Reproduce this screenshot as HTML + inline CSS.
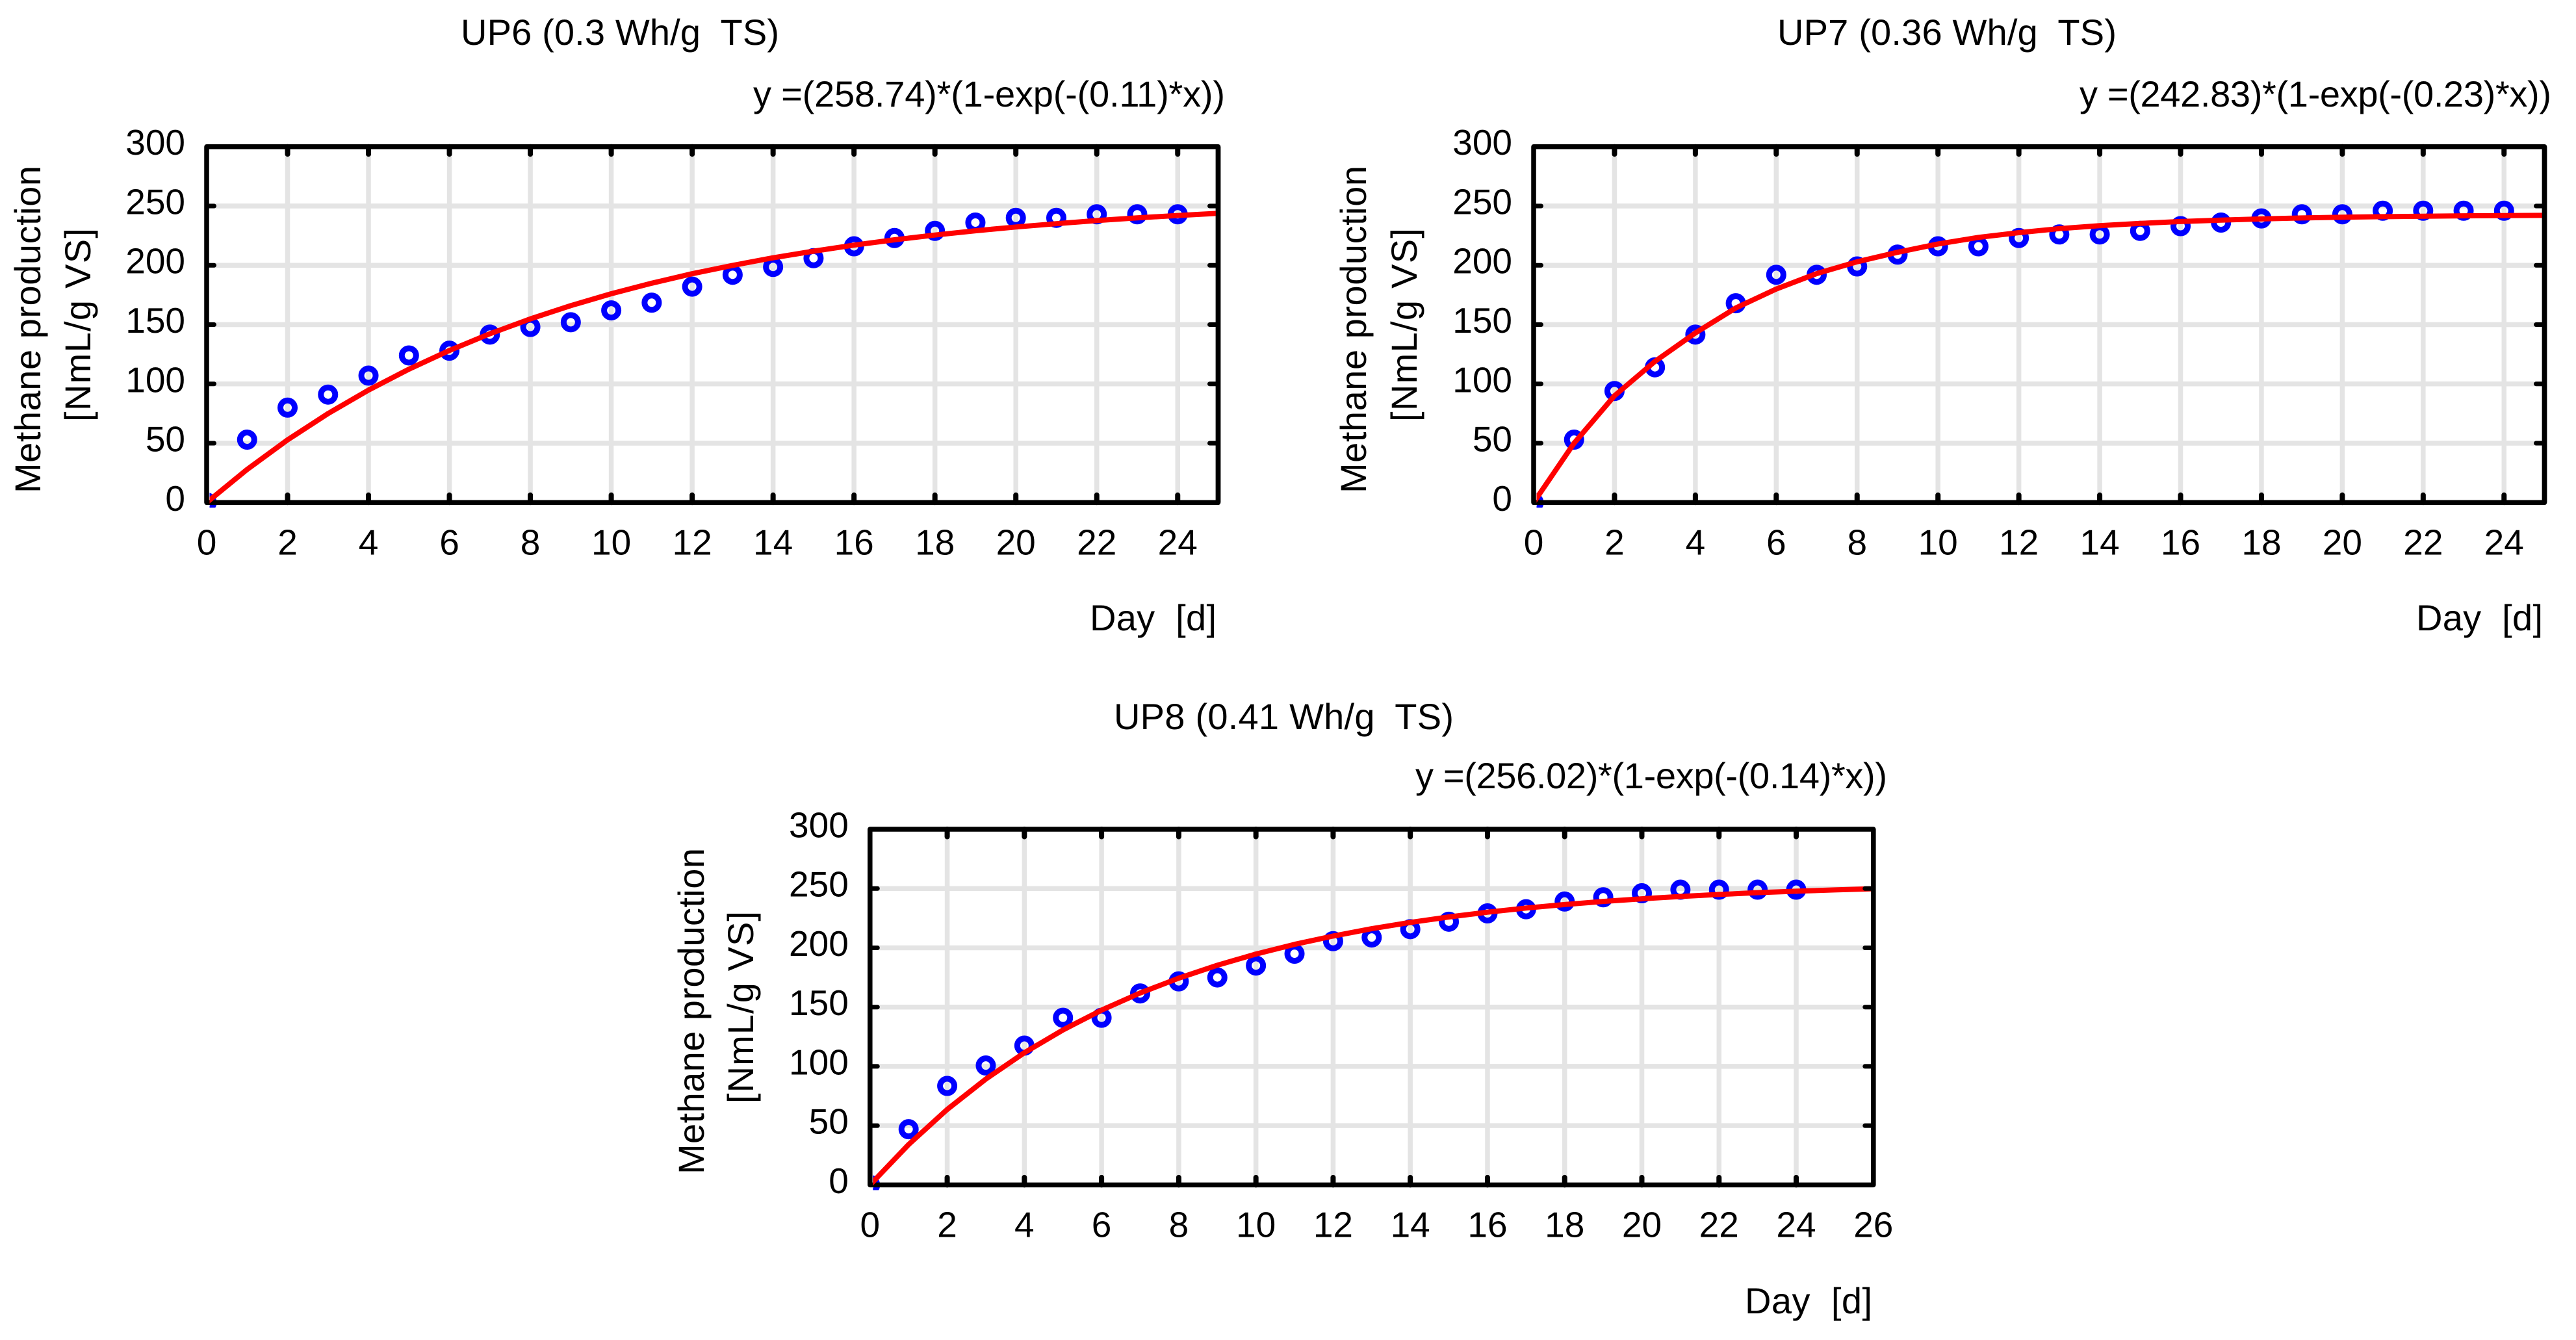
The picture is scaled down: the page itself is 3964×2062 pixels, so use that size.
<!DOCTYPE html>
<html lang="en">
<head>
<meta charset="utf-8">
<title>Methane production curves</title>
<style>
html,body{margin:0;padding:0;background:#fff;}
svg{display:block;}
text{font-family:"Liberation Sans",Arial,sans-serif;font-size:56px;fill:#000;white-space:pre;}
text.tick{font-size:55px;}
</style>
</head>
<body>
<svg id="figure" xmlns="http://www.w3.org/2000/svg" width="3964" height="2062" viewBox="0 0 3964 2062">
  <rect x="0" y="0" width="3964" height="2062" fill="#fff"/>

  <g id="panel-up6">
    <text x="709" y="69" textLength="490">UP6 (0.3 Wh/g  TS)</text>
    <text x="1159" y="164" textLength="726">y =(258.74)*(1-exp(-(0.11)*x))</text>
    <text x="1677" y="970" textLength="195">Day  [d]</text>
    <text transform="translate(62 759) rotate(-90)" textLength="504">Methane production</text>
    <text transform="translate(139 649) rotate(-90)" textLength="298">[NmL/g VS]</text>
  </g>

  <g id="panel-up7">
    <text x="2735" y="69" textLength="522">UP7 (0.36 Wh/g  TS)</text>
    <text x="3200" y="164" textLength="726">y =(242.83)*(1-exp(-(0.23)*x))</text>
    <text x="3718" y="970" textLength="195">Day  [d]</text>
    <text transform="translate(2102 759) rotate(-90)" textLength="504">Methane production</text>
    <text transform="translate(2180 649) rotate(-90)" textLength="298">[NmL/g VS]</text>
  </g>

  <g id="panel-up8">
    <text x="1714" y="1122" textLength="523">UP8 (0.41 Wh/g  TS)</text>
    <text x="2178" y="1213" textLength="726">y =(256.02)*(1-exp(-(0.14)*x))</text>
    <text x="2685" y="2021" textLength="196">Day  [d]</text>
    <text transform="translate(1083 1807) rotate(-90)" textLength="502">Methane production</text>
    <text transform="translate(1159 1698) rotate(-90)" textLength="296">[NmL/g VS]</text>
  </g>
</svg>

<script>
// ---- chart data ----
const measuredDays = [0,1,2,3,4,5,6,7,8,9,10,11,12,13,14,15,16,17,18,19,20,21,22,23,24];
const fitDaysShort = [0,1,2,3,4,5,6,7,8,9,10,11,12,13,14,15,16,17,18,19,20,21,22,23,24,25];
const fitDaysLong = [0,1,2,3,4,5,6,7,8,9,10,11,12,13,14,15,16,17,18,19,20,21,22,23,24,25,26];

const up6Measured = [0,53,80,91,107,124,128,141.6,148,152,162,168.5,182,192,198.6,206,216,223,229,236,240,240,243,243,243];
const up7Measured = [0,53,94,114,141.6,168,192,192,199,209,216,216,223,226,226,229,233,236,239.5,243,243,246,246,246,246];
const up8Measured = [0,47,83.5,100.7,117.5,141,141,161.5,171.7,175,185,195,205.6,208.7,215.7,222,229,232.5,239,242.6,246,249,249,249,249];

const up6Fit = [0,27.9,52.8,75,94.8,112.4,128.2,142.3,154.8,166,176,184.9,192.9,199.9,206.3,211.9,217,221.5,225.5,229.1,232.3,235.1,237.7,240,242,243.8];
const up7Fit = [0,50,90,119,143,164,180,193,203,211,218,223.5,227.5,230.9,233.4,235.3,236.9,238.1,239.1,239.9,240.5,241,241.3,241.7,241.9,242.1];
const up8Fit = [0,34.1,63.7,89.3,111.5,130.7,147.4,161.9,174.4,185.3,194.7,202.9,209.9,216.1,221.4,226,230,233.5,236.5,239.1,241.3,243.3,245,246.5,247.7,248.8,249.8];

const yTickLabels = [0,50,100,150,200,250,300];
const xTickLabelsShort = [0,2,4,6,8,10,12,14,16,18,20,22,24];
const xTickLabelsLong = [0,2,4,6,8,10,12,14,16,18,20,22,24,26];

// ---- drawing ----
const SVG_NS = 'http://www.w3.org/2000/svg';
const GRID_COLOR = '#e4e4e4';
const GRID_WIDTH = 7.5;
const AXIS_WIDTH = 7.5;

function makeEl(tag, attrs, parent) {
  const el = document.createElementNS(SVG_NS, tag);
  for (const k in attrs) el.setAttribute(k, attrs[k]);
  parent.appendChild(el);
  return el;
}

function drawPanel(opts) {
  const group = document.getElementById(opts.groupId);
  const xMin = 0, xMax = opts.xMax, yMin = 0, yMax = 300;
  const sx = v => opts.left + (v - xMin) / (xMax - xMin) * (opts.right - opts.left);
  const sy = v => opts.bottom - (v - yMin) / (yMax - yMin) * (opts.bottom - opts.top);

  // horizontal grid
  yTickLabels.forEach(t => {
    const line = makeEl('line', {x1: opts.left, x2: opts.right, y1: sy(t), y2: sy(t), stroke: GRID_COLOR, 'stroke-width': GRID_WIDTH}, group);
    
    
  });
  // vertical grid
  opts.xTicks.forEach(t => {
    const line = makeEl('line', {x1: sx(t), x2: sx(t), y1: opts.top, y2: opts.bottom, stroke: GRID_COLOR, 'stroke-width': GRID_WIDTH}, group);
    
    
  });

  // clip for marks: cut at the inner left axis edge, slightly past the bottom axis
  const clipId = opts.key + '-clip';
  const defs = makeEl('defs', {}, group);
  const clip = makeEl('clipPath', {id: clipId}, defs);
  makeEl('rect', {x: opts.left + 4.5, y: opts.top, width: opts.right - opts.left - 4.5, height: opts.bottom - opts.top + 8}, clip);

  // measured points
  const pts = makeEl('g', {'clip-path': 'url(#' + clipId + ')'}, group);
  
  
  measuredDays.forEach((d, i) => {
    const c = makeEl('circle', {cx: sx(d), cy: sy(opts.measured[i]), r: 11, fill: 'none', stroke: '#0000ff', 'stroke-width': 9}, pts);
    
    
  });

  // frame
  const frame = makeEl('rect', {x: opts.left, y: opts.top, width: opts.right - opts.left, height: opts.bottom - opts.top, fill: 'none', stroke: '#000', 'stroke-width': AXIS_WIDTH, 'stroke-linejoin': 'round'}, group);
  
  

  // fitted curve
  const curvePoints = opts.fitDays.map((d, i) => sx(d).toFixed(1) + ',' + sy(opts.fit[i]).toFixed(1)).join(' ');
  const curve = makeEl('polyline', {points: curvePoints, fill: 'none', stroke: '#ff0000', 'stroke-width': 8, 'stroke-linejoin': 'round', 'clip-path': 'url(#' + clipId + ')'}, group);
  
  

  // right frame edge back over the curve end
  const rightEdge = makeEl('line', {x1: opts.right, x2: opts.right, y1: opts.top, y2: opts.bottom, stroke: '#000', 'stroke-width': AXIS_WIDTH}, group);
  
  

  // y ticks and labels
  yTickLabels.forEach(t => {
    const y = sy(t);
    if (t !== yMin && t !== yMax) {
      const l = makeEl('line', {x1: opts.left, x2: opts.left + 11.5, y1: y, y2: y, stroke: '#000', 'stroke-width': 7, 'stroke-linecap': 'round'}, group);
      
      
      const r = makeEl('line', {x1: opts.right, x2: opts.right - 13, y1: y, y2: y, stroke: '#000', 'stroke-width': 7, 'stroke-linecap': 'round'}, group);
      
      
    }
    const label = makeEl('text', {x: opts.left - 33, y: y + 12.5, 'text-anchor': 'end', class: 'tick'}, group);
    label.textContent = String(t);
    
    
  });

  // x ticks and labels
  opts.xTicks.forEach(t => {
    const x = sx(t);
    if (t !== xMin && t !== xMax) {
      const b = makeEl('line', {x1: x, x2: x, y1: opts.bottom, y2: opts.bottom - 11.5, stroke: '#000', 'stroke-width': 8, 'stroke-linecap': 'round'}, group);
      
      
      const u = makeEl('line', {x1: x, x2: x, y1: opts.top, y2: opts.top + 11.5, stroke: '#000', 'stroke-width': 8, 'stroke-linecap': 'round'}, group);
      
      
    }
    const label = makeEl('text', {x: x, y: opts.bottom + 80, 'text-anchor': 'middle', class: 'tick'}, group);
    label.textContent = String(t);
    
    
  });
}

drawPanel({key: 'up6', groupId: 'panel-up6', left: 318, right: 1874.5, top: 225.7, bottom: 773.3, xMax: 25,
  xTicks: xTickLabelsShort, measured: up6Measured, fit: up6Fit, fitDays: fitDaysShort});
drawPanel({key: 'up7', groupId: 'panel-up7', left: 2360, right: 3915.5, top: 225.7, bottom: 773.3, xMax: 25,
  xTicks: xTickLabelsShort, measured: up7Measured, fit: up7Fit, fitDays: fitDaysShort});
drawPanel({key: 'up8', groupId: 'panel-up8', left: 1338.8, right: 2882.8, top: 1276, bottom: 1823.4, xMax: 26,
  xTicks: xTickLabelsLong, measured: up8Measured, fit: up8Fit, fitDays: fitDaysLong});
</script>
</body>
</html>
